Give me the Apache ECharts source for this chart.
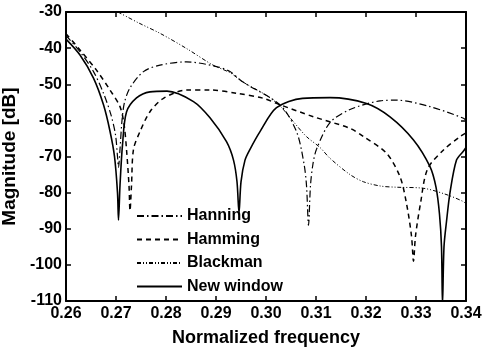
<!DOCTYPE html>
<html>
<head>
<meta charset="utf-8">
<script src="https://cdn.jsdelivr.net/npm/echarts@6/dist/echarts.min.js"></script>
<style>
  html, body { margin: 0; padding: 0; background: #fff; }
  #chart { width: 487px; height: 347px; }
</style>
</head>
<body>
<div id="chart"></div>
<script>
// 曲线数据
var seriesNames = ['Hanning', 'Hamming', 'Blackman', 'New window'];

var hanningFreq = [0.2600, 0.2628, 0.2655, 0.2675, 0.2690, 0.2699, 0.2703, 0.2705, 0.2708, 0.2712, 0.2717, 0.2728, 0.2755, 0.2788, 0.2841, 0.2901, 0.2928, 0.2954, 0.3028, 0.3061, 0.3076, 0.3081, 0.3085, 0.3089, 0.3094, 0.3101, 0.3128, 0.3168, 0.3228, 0.3260, 0.3328, 0.3395, 0.3400];
var hanningDb = [-36.5, -41, -46.5, -52.5, -58.5, -64, -70, -73, -68, -60, -55, -51, -46.5, -44.7, -43.8, -45.1, -46.5, -49.4, -55.7, -63.1, -72, -78, -89, -78, -72, -68, -60.6, -57, -54.6, -54.4, -56.2, -59.4, -60];

var hammingFreq = [0.2600, 0.2628, 0.2661, 0.2688, 0.2708, 0.2716, 0.2721, 0.2726, 0.2728, 0.2731, 0.2735, 0.2748, 0.2768, 0.2795, 0.2841, 0.2888, 0.2941, 0.2995, 0.3021, 0.3095, 0.3168, 0.3195, 0.3241, 0.3268, 0.3281, 0.3291, 0.3295, 0.3299, 0.3309, 0.3323, 0.3355, 0.3388, 0.3400];
var hammingDb = [-36, -40.5, -46.1, -51.6, -56.2, -61, -68, -78, -85, -78, -68, -63.1, -57.6, -53.9, -51.6, -51.6, -52.5, -53.9, -55.3, -59, -62.2, -64.5, -69.1, -75.6, -83, -92, -99, -92, -83, -73.5, -68.2, -64.5, -63.5];

var blackmanFreq = [0.2704, 0.2745, 0.2788, 0.2841, 0.2894, 0.2928, 0.2954, 0.3000, 0.3028, 0.3055, 0.3081, 0.3108, 0.3128, 0.3168, 0.3195, 0.3230, 0.3261, 0.3315, 0.3360, 0.3395, 0.3400];
var blackmanDb = [-30, -33, -35.9, -40.1, -44.7, -46.8, -49.4, -53, -56, -60.4, -64.5, -67.5, -70.5, -75, -77, -78.2, -78.5, -78.8, -80.5, -82.5, -83.2];

var newFreq = [0.2600, 0.2628, 0.2655, 0.2675, 0.2688, 0.2697, 0.2703, 0.2705, 0.2708, 0.2713, 0.2721, 0.2741, 0.2768, 0.2802, 0.2855, 0.2888, 0.2921, 0.2935, 0.2942, 0.2946, 0.2950, 0.2958, 0.2968, 0.2988, 0.3021, 0.3073, 0.3128, 0.3201, 0.3248, 0.3295, 0.3328, 0.3340, 0.3347, 0.3351, 0.3353, 0.3356, 0.3361, 0.3368, 0.3381, 0.3395, 0.3400];
var newDb = [-37.5, -41.9, -48.3, -55.7, -63, -70, -80, -87.6, -78, -66.8, -57.7, -53.8, -52.1, -51.9, -54.8, -59.3, -65.9, -71, -77, -85.6, -77, -71, -68, -63.1, -56.5, -53.9, -53.7, -55.3, -59, -65.4, -72.8, -78.5, -86, -95, -111, -95, -88, -80, -71, -68.5, -67.5];

var xTicks = [0.26, 0.34, 0.01];
var yTicks = [-110, -30, 10];

function zip(xs, ys) {
  var out = [];
  for (var i = 0; i < xs.length; i++) out.push([xs[i], ys[i]]);
  return out;
}

var font = "'Liberation Sans', Arial, sans-serif";
var myChart = echarts.init(document.getElementById('chart'));

var axisCommon = {
  axisLine: { show: true, onZero: false, lineStyle: { color: '#000', width: 2 } },
  axisTick: { show: true, inside: true, length: 5, lineStyle: { color: '#000', width: 1.5 } },
  splitLine: { show: false }
};

var option = {
  animation: false,
  grid: { left: 66, right: 21, top: 12, bottom: 46, outerBoundsMode: 'none', containLabel: false },
  legend: {
    orient: 'vertical',
    left: 131,
    top: 203,
    padding: 5,
    itemWidth: 45,
    itemHeight: 16,
    itemGap: 7.5,
    itemStyle: { opacity: 0 },
    textStyle: { fontFamily: font, fontWeight: 'bold', fontSize: 16, color: '#000' },
    data: seriesNames
  }
};

option.xAxis = [
  Object.assign({}, axisCommon, {
    type: 'value', min: xTicks[0], max: xTicks[1], interval: xTicks[2],
    name: 'Normalized frequency', nameLocation: 'middle', nameGap: 28,
    nameTextStyle: { fontFamily: font, fontWeight: 'bold', fontSize: 18, color: '#000' },
    axisLabel: {
      margin: 5, fontFamily: font, fontWeight: 'bold', fontSize: 16, color: '#000',
      formatter: function(v) { return v.toFixed(2); }
    }
  }),
  Object.assign({}, axisCommon, {
    type: 'value', position: 'top', min: xTicks[0], max: xTicks[1], interval: xTicks[2],
    axisLabel: { show: false }
  })
];
option.yAxis = [
  Object.assign({}, axisCommon, {
    type: 'value', min: yTicks[0], max: yTicks[1], interval: yTicks[2],
    name: 'Magnitude [dB]', nameLocation: 'middle', nameGap: 35,
    nameTextStyle: { fontFamily: font, fontWeight: 'bold', fontSize: 19, color: '#000' },
    axisLabel: { margin: 4, fontFamily: font, fontWeight: 'bold', fontSize: 16, color: '#000' }
  }),
  Object.assign({}, axisCommon, {
    type: 'value', position: 'right', min: yTicks[0], max: yTicks[1], interval: yTicks[2],
    axisLabel: { show: false }
  })
];

function line(name, data, width, type) {
  return {
    name: name, type: 'line', data: data, xAxisIndex: 0, yAxisIndex: 0,
    symbol: 'none', smooth: 0.3, clip: true,
    lineStyle: { color: '#000', width: width, type: type },
    itemStyle: { color: '#000' }
  };
}

option.series = [
  line('Hanning', zip(hanningFreq, hanningDb), 1.2, [7, 3, 1.5, 3]),
  line('Hamming', zip(hammingFreq, hammingDb), 1.5, [5, 4]),
  line('Blackman', zip(blackmanFreq, blackmanDb), 1, [4, 2, 1, 2, 1, 2]),
  line('New window', zip(newFreq, newDb), 1.6, 'solid')
];

myChart.setOption(option);
</script>
</body>
</html>
